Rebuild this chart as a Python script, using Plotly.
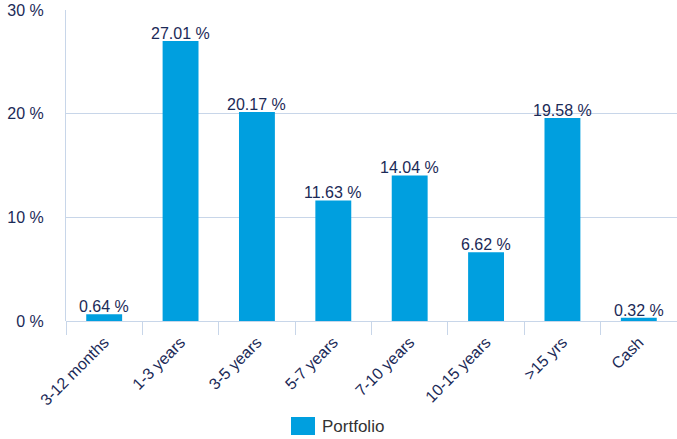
import plotly.graph_objects as go

categories = ["3-12 months", "1-3 years", "3-5 years", "5-7 years", "7-10 years",
              "10-15 years", ">15 yrs", "Cash"]
portfolio = [0.64, 27.01, 20.17, 11.63, 14.04, 6.62, 19.58, 0.32]
y_ticks = [0, 10, 20, 30]
series_name = "Portfolio"

bar_color = "#009FDF"
text_color = "#1B2A57"
grid_color = "#C8D6E9"
font_family = "Liberation Sans, Arial, sans-serif"

fig = go.Figure()
fig.add_trace(go.Bar(
    x=categories,
    y=portfolio,
    name=series_name,
    marker=dict(color=bar_color, line=dict(width=0)),
    showlegend=False,
    hoverinfo="x+y",
))

# value labels just above each bar
for cat, val in zip(categories, portfolio):
    fig.add_annotation(x=cat, y=val, text=f"{val:.2f} %", showarrow=False,
                       xanchor="center", yanchor="bottom", yshift=-3,
                       font=dict(size=16, color=text_color, family=font_family))

# custom legend swatch + label
fig.add_shape(type="rect", xref="paper", yref="paper",
              x0=(291 - 66) / 611, x1=(315 - 66) / 611,
              y0=(321 - 435) / 311, y1=(321 - 417) / 311,
              fillcolor=bar_color, line=dict(width=0))
fig.add_annotation(xref="paper", yref="paper",
                   x=(320 - 66) / 611, y=(321 - 426) / 311,
                   text=series_name, showarrow=False,
                   xanchor="left", yanchor="middle",
                   font=dict(size=17, color="#333333", family=font_family))

fig.update_layout(
    width=677, height=439,
    margin=dict(l=66, r=0, t=10, b=118),
    paper_bgcolor="white", plot_bgcolor="white",
    bargap=0.53,
    font=dict(family=font_family, color=text_color),
    xaxis=dict(
        type="category",
        automargin=False,
        tickangle=-45,
        tickson="boundaries",
        ticks="outside", ticklen=13, tickcolor=grid_color, tickwidth=1,
        ticklabelstandoff=8,
        tickfont=dict(size=16, color=text_color),
        showgrid=False,
        showline=False,
        zeroline=False,
    ),
    yaxis=dict(
        automargin=False,
        range=[0, 30],
        tickvals=y_ticks,
        ticktext=[f"{v} %" for v in y_ticks],
        tickfont=dict(size=16, color=text_color),
        showgrid=True, gridcolor=grid_color, gridwidth=1,
        showline=True, linecolor=grid_color, linewidth=1,
        zeroline=True, zerolinecolor=grid_color, zerolinewidth=1,
        ticks="outside", ticklen=18, tickcolor="rgba(0,0,0,0)",
    ),
)

fig.write_html("out.html", config={"displayModeBar": False},
               post_script="document.body.style.margin='0';")
